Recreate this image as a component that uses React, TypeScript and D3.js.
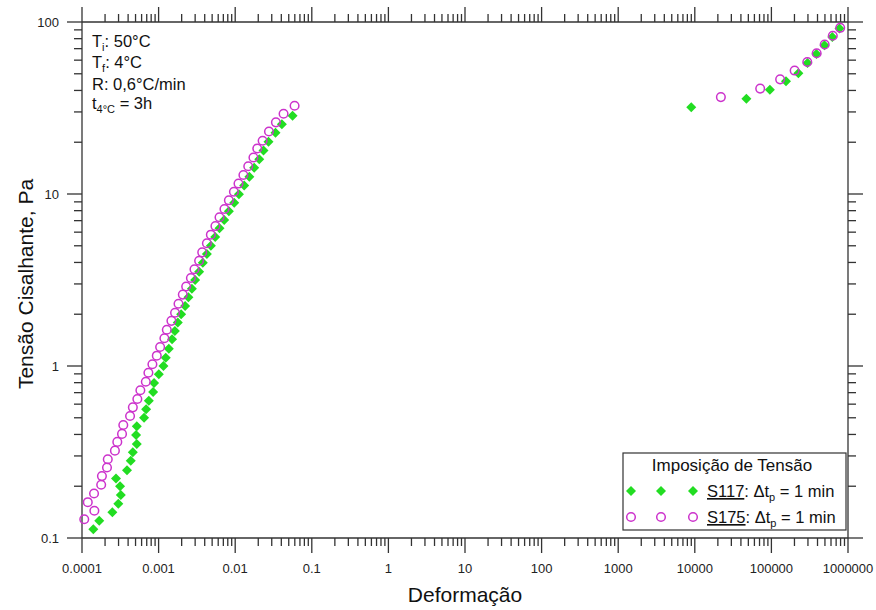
import React, { useEffect } from "react";
import * as d3 from "d3";

// S117 (green diamonds): deformation, shear stress (Pa)
const s117Strain = [
  1.406e-4, 1.68e-4, 2.49e-4, 2.98e-4, 3.21e-4, 3.14e-4, 2.78e-4, 3.87e-4, 4.33e-4, 4.61e-4,
  5.19e-4, 5.08e-4, 5.19e-4, 6.46e-4, 6.87e-4, 7.45e-4, 8.48e-4, 8.73e-4, 1.006e-3, 1.156e-3,
  1.24e-3, 1.36e-3, 1.5e-3, 1.63e-3, 1.78e-3, 1.97e-3, 2.22e-3, 2.45e-3, 2.72e-3, 3.0e-3,
  3.38e-3, 3.78e-3, 4.27e-3, 4.81e-3, 5.48e-3, 6.24e-3, 7.18e-3, 8.27e-3, 9.71e-3, 1.118e-2,
  1.31e-2, 1.53e-2, 1.77e-2, 2.06e-2, 2.34e-2, 2.72e-2, 3.36e-2, 4.07e-2, 5.61e-2,
  8990, 47100, 95500, 155000, 225000, 296000, 387000, 493000, 624000, 774000,
];
const s117Stress = [
  0.1125, 0.126, 0.141, 0.158, 0.178, 0.2, 0.222, 0.248, 0.281, 0.315,
  0.352, 0.397, 0.446, 0.5, 0.56, 0.629, 0.706, 0.796, 0.895, 1.0,
  1.117, 1.26, 1.43, 1.6, 1.79, 2.0, 2.23, 2.51, 2.81, 3.16,
  3.53, 3.99, 4.48, 5.0, 5.62, 6.32, 7.06, 7.93, 8.89, 9.96,
  11.2, 12.6, 14.2, 15.9, 17.9, 20.1, 22.7, 25.4, 28.5,
  31.9, 35.8, 40.4, 45.2, 50.4, 57.8, 65.2, 73.3, 81.8, 91.7,
];

// S175 (magenta open circles)
const s175Strain = [
  1.07e-4, 1.45e-4, 1.19e-4, 1.436e-4, 1.78e-4, 1.82e-4, 2.12e-4, 2.17e-4, 2.69e-4, 2.89e-4,
  3.33e-4, 3.46e-4, 4.24e-4, 4.61e-4, 5.28e-4, 5.78e-4, 6.81e-4, 7.36e-4, 8.3e-4, 9.47e-4,
  1.047e-3, 1.19e-3, 1.28e-3, 1.47e-3, 1.64e-3, 1.82e-3, 2.07e-3, 2.29e-3, 2.64e-3, 2.94e-3,
  3.38e-3, 3.71e-3, 4.27e-3, 4.81e-3, 5.52e-3, 6.24e-3, 7.24e-3, 8.27e-3, 9.62e-3, 1.104e-2,
  1.28e-2, 1.48e-2, 1.73e-2, 1.94e-2, 2.28e-2, 2.76e-2, 3.4e-2, 4.28e-2, 5.96e-2,
  21900, 71400, 130000, 201000, 294000, 390000, 496000, 633000, 791000,
];
const s175Stress = [
  0.1285, 0.144, 0.1615, 0.1815, 0.204, 0.229, 0.257, 0.287, 0.322, 0.362,
  0.403, 0.454, 0.512, 0.575, 0.643, 0.723, 0.81, 0.914, 1.023, 1.148,
  1.29, 1.45, 1.625, 1.83, 2.04, 2.3, 2.6, 2.9, 3.25, 3.65,
  4.09, 4.58, 5.17, 5.8, 6.51, 7.32, 8.18, 9.19, 10.3, 11.5,
  12.9, 14.5, 16.3, 18.4, 20.4, 23.1, 26.1, 29.3, 32.6,
  36.6, 41.0, 46.4, 52.2, 58.5, 65.8, 74.0, 83.2, 92.5,
];

const xMajorTicks = [1e-4, 1e-3, 1e-2, 1e-1, 1, 10, 100, 1000, 10000, 100000, 1000000];
const xTickLabels = ["0.0001", "0.001", "0.01", "0.1", "1", "10", "100", "1000", "10000", "100000", "1000000"];
const yMajorTicks = [0.1, 1, 10, 100];
const yTickLabels = ["0.1", "1", "10", "100"];

const GREEN = "#22dd22";
const MAGENTA = "#cc33cc";
const AXIS = "#333";
const FONT = "Arial, 'Liberation Sans', sans-serif";

function minorTicks(majors: number[]): number[] {
  const out: number[] = [];
  for (let i = 0; i < majors.length - 1; i++) {
    for (let m = 2; m <= 9; m++) out.push(majors[i] * m);
  }
  return out;
}

export default function App() {
  useEffect(() => {
    document.body.style.margin = "0";
  }, []);

  const W = 876, H = 610;
  const L = 82, R = 848, T = 22, B = 538;
  const x = d3.scaleLog().domain([1e-4, 1e6]).range([L, R]);
  const y = d3.scaleLog().domain([0.1, 100]).range([B, T]);
  const xMinor = minorTicks(xMajorTicks);
  const yMinor = minorTicks(yMajorTicks);
  const MAJ = 15, MIN = 8;

  const diamond = d3.symbol().type(d3.symbolSquare).size(50)()!;

  const g = s117Strain.map((s, i) => ({ x: s, y: s117Stress[i] }));
  const m = s175Strain.map((s, i) => ({ x: s, y: s175Stress[i] }));

  const legendX = 623, legendY = 453, legendW = 223, legendH = 77;

  return (
    <svg width={W} height={H} style={{ display: "block", position: "absolute", left: 0, top: 0 }} fontFamily={FONT}>
      <rect width={W} height={H} fill="#fff" />
      {/* axes lines */}
      <g stroke={AXIS} strokeWidth={1.3} fill="none">
        <line x1={L} x2={R} y1={B} y2={B} />
        <line x1={L} x2={R} y1={T} y2={T} />
        <line x1={L} x2={L} y1={T} y2={B} />
        <line x1={R} x2={R} y1={T} y2={B} />
        {xMajorTicks.map((t, i) => (
          <g key={"xm" + i}>
            <line x1={x(t)} x2={x(t)} y1={B} y2={B + MAJ} />
            <line x1={x(t)} x2={x(t)} y1={T} y2={T - MAJ} />
          </g>
        ))}
        {xMinor.map((t, i) => (
          <g key={"xn" + i}>
            <line x1={x(t)} x2={x(t)} y1={B} y2={B + MIN} />
            <line x1={x(t)} x2={x(t)} y1={T} y2={T - MIN} />
          </g>
        ))}
        {yMajorTicks.map((t, i) => (
          <g key={"ym" + i}>
            <line x1={L} x2={L - MAJ} y1={y(t)} y2={y(t)} />
            <line x1={R} x2={R + MAJ} y1={y(t)} y2={y(t)} />
          </g>
        ))}
        {yMinor.map((t, i) => (
          <g key={"yn" + i}>
            <line x1={L} x2={L - MIN} y1={y(t)} y2={y(t)} />
            <line x1={R} x2={R + MIN} y1={y(t)} y2={y(t)} />
          </g>
        ))}
      </g>
      {/* tick labels */}
      <g fontSize={13} fill="#222">
        {xMajorTicks.map((t, i) => (
          <text key={"xl" + i} x={x(t)} y={573} textAnchor="middle">{xTickLabels[i]}</text>
        ))}
        {yMajorTicks.map((t, i) => (
          <text key={"yl" + i} x={59} y={y(t) + 4.5} textAnchor="end">{yTickLabels[i]}</text>
        ))}
      </g>
      {/* axis titles */}
      <text x={(L + R) / 2} y={602} textAnchor="middle" fontSize={21} fill="#111">Deformação</text>
      <text transform={`translate(33,${(T + B) / 2 + 4}) rotate(-90)`} textAnchor="middle" fontSize={21} fill="#111">Tensão Cisalhante, Pa</text>

      {/* data */}
      <g>
        {g.map((d, i) => (
          <path key={"g" + i} d={diamond} transform={`translate(${x(d.x)},${y(d.y)}) rotate(45)`} fill={GREEN} />
        ))}
        {m.map((d, i) => (
          <circle key={"m" + i} cx={x(d.x)} cy={y(d.y)} r={4.3} fill="none" stroke={MAGENTA} strokeWidth={1.5} />
        ))}
      </g>

      {/* annotation */}
      <g fontSize={16.5} fill="#111">
        <text x={92} y={47}>T<tspan fontSize={11} dy={4}>i</tspan><tspan dy={-4}>: 50°C</tspan></text>
        <text x={92} y={68}>T<tspan fontSize={11} dy={4}>f</tspan><tspan dy={-4}>: 4°C</tspan></text>
        <text x={92} y={90}>R: 0,6°C/min</text>
        <text x={92} y={109}>t<tspan fontSize={11} dy={4}>4°C</tspan><tspan dy={-4}> = 3h</tspan></text>
      </g>

      {/* legend */}
      <g>
        <rect x={legendX} y={legendY} width={legendW} height={legendH} fill="#fff" stroke={AXIS} strokeWidth={1.2} />
        <text x={732} y={471} textAnchor="middle" fontSize={17} fill="#111">Imposição de Tensão</text>
        {[631, 661, 693].map((lx, i) => (
          <path key={"lg" + i} d={diamond} transform={`translate(${lx},${491}) rotate(45)`} fill={GREEN} />
        ))}
        {[631, 661, 693].map((lx, i) => (
          <circle key={"lm" + i} cx={lx} cy={517} r={4.3} fill="none" stroke={MAGENTA} strokeWidth={1.5} />
        ))}
        <text x={707} y={497} fontSize={16.5} fill="#111">
          <tspan textDecoration="underline">S117</tspan>: Δt<tspan fontSize={11} dy={4}>p</tspan><tspan dy={-4}> = 1 min</tspan>
        </text>
        <text x={707} y={523} fontSize={16.5} fill="#111">
          <tspan textDecoration="underline">S175</tspan>: Δt<tspan fontSize={11} dy={4}>p</tspan><tspan dy={-4}> = 1 min</tspan>
        </text>
      </g>
    </svg>
  );
}
